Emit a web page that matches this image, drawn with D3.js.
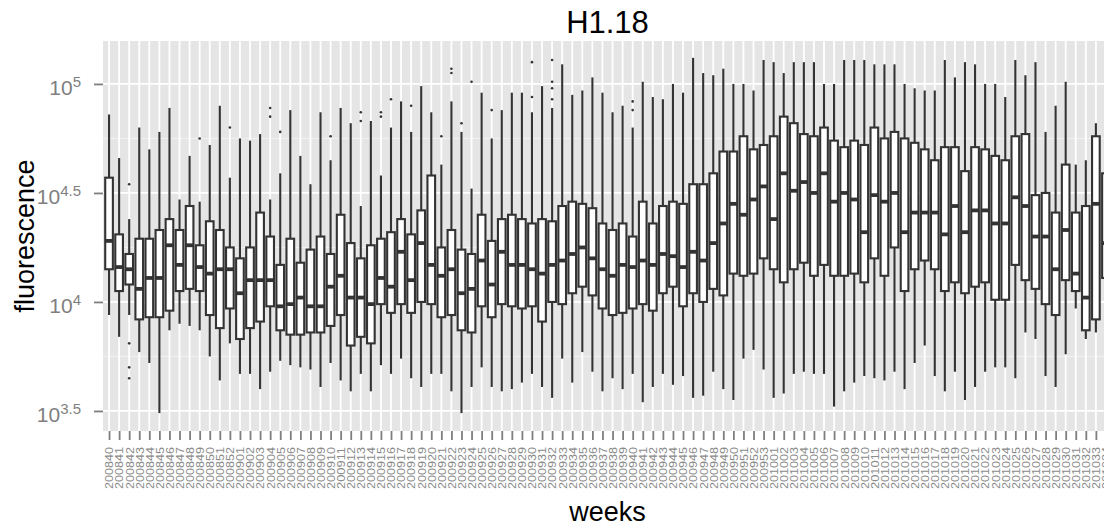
<!DOCTYPE html>
<html>
<head>
<meta charset="utf-8">
<title>H1.18</title>
<script src="https://d3js.org/d3.v7.min.js"></script>
<style>
  body { margin: 0; background: #fff; }
  text { font-family: "Liberation Sans", Arial, Helvetica, sans-serif; }
</style>
</head>
<body>
<script>
// week labels
var weeks = [
  "200840","200841","200842","200843","200844","200845","200846","200847","200848","200849",
  "200850","200851","200852",
  "200901","200902","200903","200904","200905","200906","200907","200908","200909","200910",
  "200911","200912","200913","200914","200915","200916","200917","200918","200919","200920",
  "200921","200922","200923","200924","200925","200926","200927","200928","200929","200930",
  "200931","200932","200933","200934","200935","200936","200937","200938","200939","200940",
  "200941","200942","200943","200944","200945","200946","200947","200948","200949","200950",
  "200951","200952","200953",
  "201001","201002","201003","201004","201005","201006","201007","201008","201009","201010",
  "201011","201012","201013","201014","201015","201016","201017","201018","201019","201020",
  "201021","201022","201023","201024","201025","201026","201027","201028","201029","201030",
  "201031","201032","201033","201034"
];

// box stats, as log10(fluorescence)
var lo = [3.94,3.84,3.94,3.77,3.72,3.49,3.87,3.90,3.89,3.87, 3.75,3.64,3.81,3.67,3.67,3.60,3.68,3.73,3.71,3.70,
          3.69,3.61,3.72,3.64,3.59,3.67,3.59,3.71,3.67,3.74, 3.65,3.61,3.67,3.67,3.59,3.49,3.61,3.70,3.61,3.59,
          3.60,3.63,3.67,3.61,3.56,3.74,3.63,3.77,3.68,3.59, 3.65,3.60,3.67,3.54,3.61,3.67,3.62,3.66,3.56,3.57,
          3.68,3.60,3.55,3.74,3.78,3.69,3.56,3.58,3.67,3.68, 3.67,3.67,3.52,3.59,3.63,3.66,3.65,3.64,3.68,3.60,
          3.72,3.80,3.66,3.59,3.68,3.55,3.61,3.68,3.70,3.70, 3.65,3.86,3.83,3.66,3.61,3.76,3.97,3.83,3.86,3.90];
var q1 = [4.15,4.05,4.08,3.92,3.93,3.93,3.96,4.05,4.06,4.05, 3.94,3.88,3.97,3.83,3.88,3.91,3.98,3.87,3.85,3.85,
          3.86,3.86,3.89,3.94,3.80,3.84,3.81,3.99,3.95,3.99, 3.95,4.00,3.99,3.93,3.94,3.87,3.86,3.98,3.93,3.99,
          3.98,3.97,3.98,3.91,4.00,3.99,4.04,4.07,4.03,3.97, 3.94,3.95,3.97,3.99,3.96,4.04,4.07,3.98,4.04,4.00,
          4.06,4.03,4.13,4.12,4.13,4.20,4.15,4.09,4.15,4.18, 4.12,4.17,4.12,4.12,4.13,4.09,4.20,4.12,4.25,4.05,
          4.15,4.19,4.15,4.05,4.09,4.04,4.07,4.09,4.01,4.01, 4.17,4.10,4.06,3.99,3.94,4.10,4.05,3.87,3.92,4.11];
var med = [4.28,4.16,4.15,4.06,4.11,4.11,4.26,4.17,4.26,4.16, 4.13,4.15,4.15,4.04,4.10,4.10,4.10,3.98,3.99,4.02,
           3.98,3.98,4.07,4.12,4.02,4.02,3.99,4.11,4.07,4.23, 4.10,4.27,4.17,4.12,4.15,4.04,4.06,4.19,4.08,4.23,
           4.17,4.17,4.15,4.13,4.17,4.19,4.22,4.25,4.20,4.15, 4.12,4.17,4.16,4.19,4.17,4.22,4.21,4.16,4.23,4.19,
           4.27,4.36,4.45,4.40,4.47,4.53,4.38,4.59,4.51,4.55, 4.50,4.59,4.46,4.50,4.47,4.32,4.49,4.46,4.50,4.32,
           4.41,4.41,4.41,4.31,4.44,4.32,4.42,4.42,4.36,4.36, 4.48,4.44,4.30,4.30,4.15,4.33,4.13,4.02,4.45,4.27];
var q3 = [4.57,4.31,4.22,4.29,4.29,4.33,4.38,4.33,4.44,4.26, 4.37,4.33,4.25,4.20,4.25,4.41,4.30,4.17,4.29,4.18,
          4.24,4.30,4.22,4.40,4.27,4.20,4.26,4.29,4.32,4.38, 4.31,4.42,4.58,4.25,4.33,4.24,4.22,4.40,4.28,4.38,
          4.40,4.38,4.36,4.38,4.37,4.44,4.46,4.45,4.43,4.36, 4.33,4.36,4.30,4.46,4.36,4.44,4.46,4.45,4.54,4.54,
          4.59,4.69,4.69,4.76,4.70,4.72,4.76,4.85,4.82,4.77, 4.76,4.80,4.74,4.71,4.74,4.72,4.80,4.75,4.78,4.75,
          4.73,4.70,4.65,4.71,4.71,4.60,4.71,4.70,4.67,4.65, 4.76,4.77,4.49,4.50,4.41,4.63,4.41,4.44,4.76,4.59];
var hi = [4.86,4.66,4.38,4.80,4.70,4.78,4.89,4.47,4.67,4.46, 4.72,4.90,4.57,4.75,4.74,4.77,4.47,4.59,4.88,4.67,
          4.54,4.87,4.65,4.89,4.82,4.44,4.83,4.58,4.80,4.92, 4.78,4.99,4.87,4.63,4.92,4.78,4.52,4.96,4.75,4.88,
          4.96,4.96,4.87,4.99,4.89,5.09,4.95,4.97,5.03,4.96, 4.87,4.90,4.80,5.01,4.94,4.93,5.00,4.96,5.12,5.05,
          5.04,5.07,5.00,5.00,4.97,5.11,5.10,5.05,5.10,5.10, 5.10,5.00,5.00,5.11,5.11,5.11,5.09,5.09,5.09,5.00,
          4.98,4.97,4.97,5.11,5.03,5.10,5.09,5.00,5.00,4.94, 5.11,5.04,5.10,4.78,4.90,5.01,4.63,4.65,4.82,4.88];

// outliers (week, log10 value)
var outlierWeek = ["200842","200842","200842","200842","200849","200852","200904","200904","200905","200910",
                   "200913","200913","200915","200915","200916","200918","200921","200922","200922","200923",
                   "200924","200926","200930","200930","200932","200932","200932","200932","200940","200940"];
var outlierVal = [4.54,3.81,3.70,3.65,4.75,4.80,4.89,4.85,4.78,4.76,
                  4.87,4.83,4.87,4.85,4.93,4.90,4.76,5.07,5.05,4.82,
                  5.01,4.88,5.10,4.94,5.11,5.01,4.98,4.93,4.92,4.88];

var yTicks = [3.5, 4, 4.5, 5];
var yMinor = [3.75, 4.25, 4.75];

var width = 1104, height = 529;
var pLeft = 103, pRight = 1112, pTop = 41, pBottom = 431;
var ink = "#333333";

var svg = d3.select("body").append("svg")
    .attr("width", width)
    .attr("height", height);

var x = d3.scalePoint().domain(weeks).range([pLeft, pRight]).padding(0.6);
var y = d3.scaleLog().domain([Math.pow(10, 3.408), Math.pow(10, 5.197)]).range([pBottom, pTop]);
var p = function(v){ return y(Math.pow(10, v)); };
var step = x.step();
var bw = step * 0.76;

// panel
svg.append("rect")
    .attr("x", pLeft).attr("y", pTop)
    .attr("width", pRight - pLeft).attr("height", pBottom - pTop)
    .attr("fill", "#e5e5e5");

// minor grid
svg.selectAll("line.minor").data(yMinor).enter().append("line")
    .attr("x1", pLeft).attr("x2", pRight)
    .attr("y1", p).attr("y2", p)
    .attr("stroke", "#f2f2f2").attr("stroke-width", 1);

// major grid
svg.selectAll("line.hmajor").data(yTicks).enter().append("line")
    .attr("x1", pLeft).attr("x2", pRight)
    .attr("y1", p).attr("y2", p)
    .attr("stroke", "#ffffff").attr("stroke-width", 1.8);

svg.selectAll("line.vmajor").data(weeks).enter().append("line")
    .attr("x1", function(d){ return x(d); }).attr("x2", function(d){ return x(d); })
    .attr("y1", pTop).attr("y2", pBottom)
    .attr("stroke", "#ffffff").attr("stroke-width", 1.8);

// boxes
var g = svg.append("g");
weeks.forEach(function(w, i){
  var cx = x(w);
  g.append("line").attr("x1", cx).attr("x2", cx)
    .attr("y1", p(q3[i])).attr("y2", p(hi[i]))
    .attr("stroke", ink).attr("stroke-width", 2.1);
  g.append("line").attr("x1", cx).attr("x2", cx)
    .attr("y1", p(q1[i])).attr("y2", p(lo[i]))
    .attr("stroke", ink).attr("stroke-width", 2.1);
  g.append("rect")
    .attr("x", cx - bw/2).attr("width", bw)
    .attr("y", p(q3[i])).attr("height", p(q1[i]) - p(q3[i]))
    .attr("fill", "#ffffff").attr("stroke", ink).attr("stroke-width", 2.1);
  g.append("line").attr("x1", cx - bw/2).attr("x2", cx + bw/2)
    .attr("y1", p(med[i])).attr("y2", p(med[i]))
    .attr("stroke", ink).attr("stroke-width", 3.8);
});

// outliers
svg.selectAll("circle.out").data(outlierVal).enter().append("circle")
    .attr("cx", function(d, i){ return x(outlierWeek[i]); })
    .attr("cy", function(d){ return p(d); })
    .attr("r", 1.3)
    .attr("fill", ink);

// y axis
var yAxis = svg.append("g")
    .attr("transform", "translate(" + pLeft + ",0)")
    .call(d3.axisLeft(y).tickValues(yTicks.map(function(t){ return Math.pow(10, t); }))
      .tickSize(9).tickSizeOuter(0).tickPadding(13).tickFormat(""));
yAxis.select(".domain").remove();
yAxis.selectAll(".tick line").attr("stroke", "#7f7f7f").attr("stroke-width", 1.8);
yAxis.selectAll(".tick text").each(function(d){
  var t = d3.select(this);
  var ex = Math.round(Math.log10(d) * 10) / 10;
  t.attr("dy", null).attr("y", 11)
    .attr("fill", "#7f7f7f").style("font-size", "21px")
    .style("font-family", "'Liberation Sans', Arial, sans-serif")
    .attr("text-anchor", "end");
  t.append("tspan").text("10");
  t.append("tspan").attr("dy", -8).style("font-size", "15px").text(ex);
});

// x axis
var xAxis = svg.append("g")
    .attr("transform", "translate(0," + pBottom + ")")
    .call(d3.axisBottom(x).tickSize(9).tickSizeOuter(0));
xAxis.select(".domain").remove();
xAxis.selectAll(".tick line").attr("stroke", "#7f7f7f").attr("stroke-width", 1.8);
xAxis.selectAll(".tick text")
    .attr("transform", "rotate(-90)")
    .attr("x", -16).attr("y", 0).attr("dy", "0.35em")
    .attr("text-anchor", "end")
    .attr("fill", "#8a8a8a")
    .attr("textLength", 42).attr("lengthAdjust", "spacingAndGlyphs")
    .style("font-size", "11px")
    .style("font-family", "'Liberation Sans', Arial, sans-serif");

// titles
var mid = (pLeft + pRight) / 2;
svg.append("text").attr("x", mid).attr("y", 33)
    .attr("text-anchor", "middle").style("font-size", "31px").text("H1.18");
svg.append("text").attr("x", mid).attr("y", 521)
    .attr("text-anchor", "middle").style("font-size", "27px").text("weeks");
svg.append("text")
    .attr("transform", "translate(34," + ((pTop + pBottom) / 2) + ") rotate(-90)")
    .attr("text-anchor", "middle").style("font-size", "27px").text("fluorescence");
</script>
</body>
</html>
